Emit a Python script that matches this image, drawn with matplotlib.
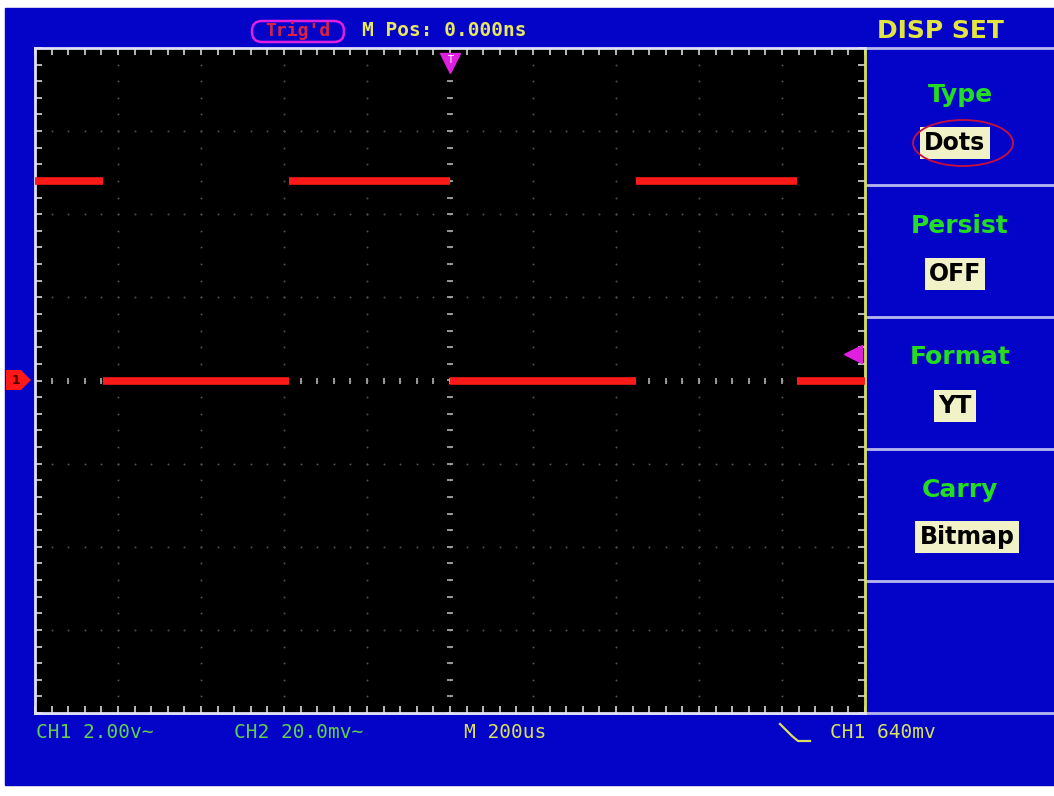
import numpy as np
import matplotlib.pyplot as plt
from matplotlib.patches import Rectangle, FancyBboxPatch, Ellipse, Polygon

# scope settings
time_per_div_us = 200
volt_per_div = 2.0
n_div_x = 10
n_div_y = 8
trig_level_v = 0.64

# CH1 square wave (dots mode: only the flat parts are drawn)
edge_times_us = [-1000, -836, -388, 0, 448, 836, 1000]
levels_v = [4.8, 0.0, 4.8, 0.0, 4.8, 0.0]

menu_titles = ['Type', 'Persist', 'Format', 'Carry']
menu_values = ['Dots', 'OFF', 'YT', 'Bitmap']
status_texts = ['CH1 2.00v~', 'CH2 20.0mv~', 'M 200us', 'CH1 640mv']

W, H = 1054, 796
blue = '#0404c8'
fig = plt.figure(figsize=(W / 100, H / 100), dpi=100)
fig.patch.set_facecolor('white')

# background in pixel coordinates
bg = fig.add_axes([0, 0, 1, 1])
bg.set_xlim(0, W)
bg.set_ylim(H, 0)
bg.axis('off')
bg.add_patch(Rectangle((5, 8), W - 5, 777, color=blue, zorder=0))

# menu panel dividers
for yy in [48, 185, 317, 449, 581]:
    bg.plot([865, W], [yy, yy], color='#b8b8f0', lw=2, zorder=2)
bg.plot([35, W], [713, 713], color='#b8b8f0', lw=2, zorder=2)

bg.text(940, 31, 'DISP SET', color='#e4e440', fontsize=18, fontweight='bold',
        ha='center', va='center', family='DejaVu Sans')

title_y = [95, 226, 357, 490]
value_y = [143, 274, 406, 537]
for t, v, ty, vy in zip(menu_titles, menu_values, title_y, value_y):
    bg.text(960, ty, t, color='#22dd22', fontsize=18, fontweight='bold',
            ha='center', va='center', family='DejaVu Sans')
    bg.text(955 if v != 'Bitmap' else 967, vy, v, color='black', fontsize=17,
            fontweight='bold', ha='center', va='center', family='DejaVu Sans',
            bbox=dict(boxstyle='square,pad=0.18', fc='#f2f2c8', ec='none'))
bg.add_patch(Ellipse((963, 143), 100, 46, fill=False, ec='#c8103c', lw=1.3, zorder=5))

# top status
bg.add_patch(FancyBboxPatch((252, 21), 92, 21, boxstyle='round,pad=0,rounding_size=10',
                            fill=False, ec='#e020e0', lw=1.8))
bg.text(298, 31, "Trig'd", color='#e02040', fontsize=13, ha='center', va='center',
        family='DejaVu Sans Mono', fontweight='bold')
bg.text(362, 31, 'M Pos: 0.000ns', color='#e8e860', fontsize=14, ha='left', va='center',
        family='DejaVu Sans Mono', fontweight='bold')

# bottom status
for s, xx in zip(status_texts, [36, 234, 464, 830]):
    col = '#60d050' if s.startswith('CH') and xx < 500 else '#d8e060'
    bg.text(xx, 733, s, color=col, fontsize=14, ha='left', va='center',
            family='DejaVu Sans Mono')
bg.plot([780, 792, 798, 810], [724, 736, 741, 741], color='#d8e060', lw=1.6)

# channel 1 ground marker
bg.add_patch(Polygon([(6, 370), (21, 370), (31, 380), (21, 390), (6, 390)],
                     closed=True, fc='#ff1818', ec='none', zorder=5))
bg.text(16, 380, '1', color='#500000', fontsize=9, ha='center', va='center',
        fontweight='bold', zorder=6)

# scope screen
ax = fig.add_axes([35 / W, 1 - 713 / H, 830 / W, 665 / H])
ax.set_facecolor('black')
xmax = n_div_x / 2 * time_per_div_us
ymax = n_div_y / 2 * volt_per_div
ax.set_xlim(-xmax, xmax)
ax.set_ylim(-ymax, ymax)

ax.set_xticks(np.arange(-xmax, xmax + 1, time_per_div_us))
ax.set_xticks(np.arange(-xmax, xmax + 1, time_per_div_us / 5), minor=True)
ax.set_yticks(np.arange(-ymax, ymax + 0.01, volt_per_div))
ax.set_yticks(np.arange(-ymax, ymax + 0.01, volt_per_div / 5), minor=True)
ax.tick_params(which='both', direction='in', length=5, width=1.2, color='#d8d8d8',
               top=True, right=True, labelbottom=False, labelleft=False)
for side in ['left', 'top', 'bottom']:
    ax.spines[side].set_color('#e0e0f8')
    ax.spines[side].set_linewidth(2)
ax.spines['right'].set_color('#d8e060')
ax.spines['right'].set_linewidth(2)

# grid dots
gx = np.arange(-xmax + time_per_div_us, xmax, time_per_div_us)
gy = np.arange(-ymax + volt_per_div, ymax, volt_per_div)
fine_x = np.arange(-xmax, xmax + 1, time_per_div_us / 5)
fine_y = np.arange(-ymax, ymax + 0.01, volt_per_div / 5)
for x0 in gx:
    ax.scatter(np.full_like(fine_y, x0), fine_y, s=2, color='#505050', lw=0)
for y0 in gy:
    ax.scatter(fine_x, np.full_like(fine_x, y0), s=2, color='#505050', lw=0)
# centre axes with small ticks
ax.scatter(np.zeros_like(fine_y), fine_y, marker='_', s=20, color='#b0b0b0', lw=1.2)
ax.scatter(fine_x, np.zeros_like(fine_x), marker='|', s=20, color='#b0b0b0', lw=1.2)

# signal
ax.hlines(levels_v, edge_times_us[:-1], edge_times_us[1:], color='#ff1a1a', lw=5.5, zorder=4)

# trigger markers
ax.plot([0], [7.65], marker='v', ms=14, color='#e020e0', clip_on=False, zorder=6)
ax.text(0, 7.72, 'T', color='#ffffff', fontsize=7, ha='center', va='center', zorder=7)
ax.plot([970], [trig_level_v], marker='<', ms=13, color='#e020e0', clip_on=False, zorder=6)

fig.savefig('out.png', dpi=100, facecolor=fig.get_facecolor())
